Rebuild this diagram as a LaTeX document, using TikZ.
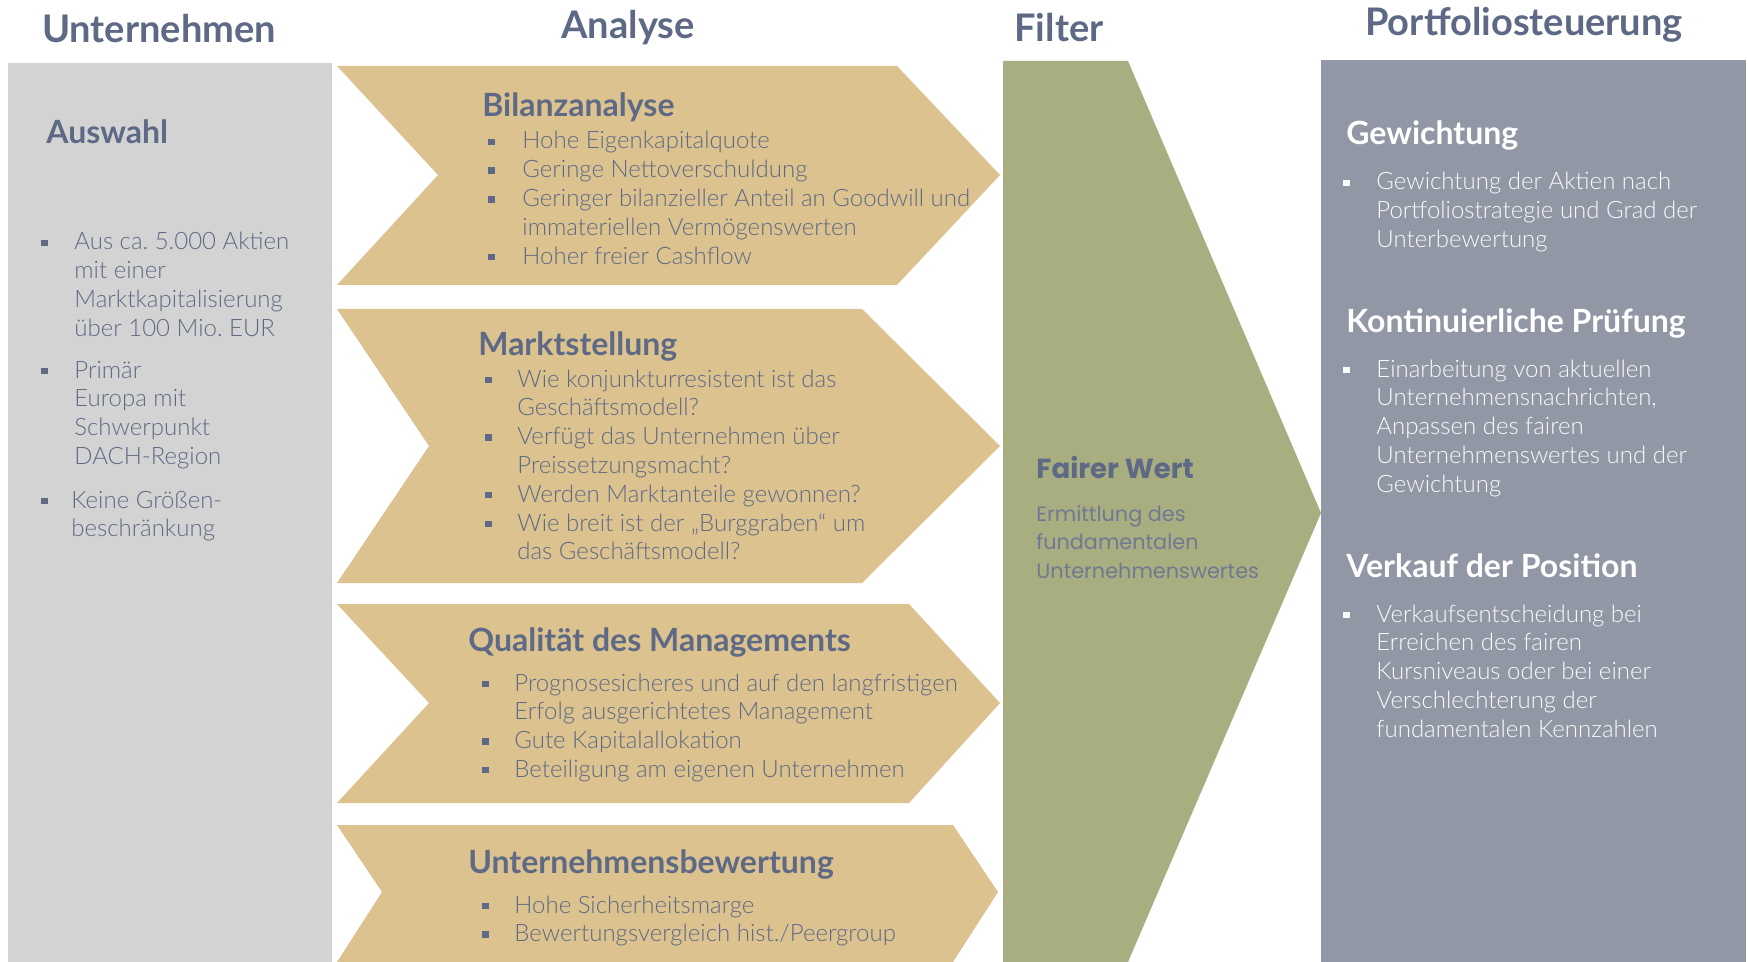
\documentclass[tikz,border=0pt]{standalone}
\usepackage{fontspec}
\setmainfont{Lato}[UprightFont=* Light, BoldFont=* Bold]
\newfontfamily\geo{Poppins}
\frenchspacing
\definecolor{goldc}{RGB}{219,194,143}
\definecolor{greenc}{RGB}{168,174,128}
\definecolor{portc}{RGB}{145,151,164}
\definecolor{grayc}{RGB}{211,211,211}
\definecolor{slate}{RGB}{94,106,133}
\definecolor{fwtext}{RGB}{112,121,146}
\newcommand\lns[1]{\begin{tabular}[t]{@{}l@{}}#1\end{tabular}}
\newcommand\bsq[1]{\makebox[#1][l]{\raisebox{0.17em}{\rule{3.2pt}{3.2pt}}}}
\newcommand\ind[1]{\hspace*{#1}}
\begin{document}
\frenchspacing
\begin{tikzpicture}[x=0.5pt,y=-0.5pt,
  ttl/.style={inner sep=0,text=slate,font=\fontsize{19}{22}\selectfont\bfseries},
  hd/.style={inner sep=0,anchor=base west,text=slate,font=\fontsize{16}{19}\selectfont\bfseries},
  hdw/.style={hd,text=white},
  body/.style={inner sep=0,anchor=base west,text=slate,font=\fontsize{12}{14.4}\selectfont\frenchspacing},
  bodyw/.style={body,text=white!95!portc}]
\useasboundingbox (0,0) rectangle (1748,962);
\fill[white] (0,0) rectangle (1748,962);
% shapes
\fill[grayc] (8,63) rectangle (332,962);
\fill[goldc] (337,66) -- (897,66) -- (1000,175) -- (897,285) -- (337,285) -- (438,175) -- cycle;
\fill[goldc] (337,309) -- (862,309) -- (1000,446) -- (862,583) -- (337,583) -- (429,446) -- cycle;
\fill[goldc] (337,604) -- (909,604) -- (1000,703) -- (909,803) -- (337,803) -- (429,703) -- cycle;
\fill[goldc] (337,825) -- (953,825) -- (998,892) -- (953,962) -- (337,962) -- (382,892) -- cycle;
\fill[greenc] (1003,61) -- (1128,61) -- (1321,513) -- (1128,962) -- (1003,962) -- cycle;
\fill[portc] (1321,60) rectangle (1746,962);
% titles
\node[ttl,anchor=base] (t1) at (159,43) {Unternehmen};
\node[ttl,anchor=base] (t2) at (628,39) {Analyse};
\node[ttl,anchor=base west] (t3) at (1014,42) {Filter};
\node[ttl,anchor=base] (t4) at (1524,36) {Portfoliosteuerung};
% left panel
\node[hd] (aw) at (46,144) {Auswahl};
\node[body] (aw1) at (41,250) {\lns{\bsq{16.5pt}Aus ca. 5.000 Aktien\\\ind{16.5pt}mit einer\\\ind{16.5pt}Marktkapitalisierung\\\ind{16.5pt}über 100 Mio. EUR}};
\node[body] (aw2) at (41,378) {\lns{\bsq{16.5pt}Primär\\\ind{16.5pt}Europa mit\\\ind{16.5pt}Schwerpunkt\\\ind{16.5pt}DACH-Region}};
\node[body] (aw3) at (41,508) {\lns{\bsq{15pt}Keine Größen-\\\ind{15pt}beschränkung}};
% chevron 1
\node[hd] (c1h) at (482,117) {Bilanzanalyse};
\node[body] (c1b) at (488,149) {\lns{\bsq{17pt}Hohe Eigenkapitalquote\\\bsq{17pt}Geringe Nettoverschuldung\\\bsq{17pt}Geringer bilanzieller Anteil an Goodwill und\\\ind{17pt}immateriellen Vermögenswerten\\\bsq{17pt}Hoher freier Cashflow}};
% chevron 2
\node[hd] (c2h) at (478,356) {Marktstellung};
\node[body] (c2b) at (485,387) {\lns{\bsq{16pt}Wie konjunkturresistent ist das\\\ind{16pt}Geschäftsmodell?\\\bsq{16pt}Verfügt das Unternehmen über\\\ind{16pt}Preissetzungsmacht?\\\bsq{16pt}Werden Marktanteile gewonnen?\\\bsq{16pt}Wie breit ist der „Burggraben“ um\\\ind{16pt}das Geschäftsmodell?}};
% chevron 3
\node[hd] (c3h) at (468,651) {Qualität des Managements};
\node[body] (c3b) at (482,691) {\lns{\bsq{16pt}Prognosesicheres und auf den langfristigen\\\ind{16pt}Erfolg ausgerichtetes Management\\\bsq{16pt}Gute Kapitalallokation\\\bsq{16pt}Beteiligung am eigenen Unternehmen}};
% chevron 4
\node[hd] (c4h) at (468,873) {Unternehmensbewertung};
\node[body] (c4b) at (482,913) {\lns{\bsq{16pt}Hohe Sicherheitsmarge\\\bsq{16pt}Bewertungsvergleich hist./Peergroup}};
% filter
\node[hd,font=\geo\fontsize{13.8}{16}\selectfont\bfseries] (fw) at (1036,478) {Fairer Wert};
\node[body,text=fwtext,font=\geo\fontsize{10.4}{14.3}\selectfont] (fwb) at (1036,521) {\lns{Ermittlung des\\fundamentalen\\Unternehmenswertes}};
% portfolio
\node[hdw] (p1h) at (1346,145) {Gewichtung};
\node[bodyw] (p1b) at (1343,190) {\lns{\bsq{16.5pt}Gewichtung der Aktien nach\\\ind{16.5pt}Portfoliostrategie und Grad der\\\ind{16.5pt}Unterbewertung}};
\node[hdw] (p2h) at (1346,332) {Kontinuierliche Prüfung};
\node[bodyw] (p2b) at (1343,377) {\lns{\bsq{16.5pt}Einarbeitung von aktuellen\\\ind{16.5pt}Unternehmensnachrichten,\\\ind{16.5pt}Anpassen des fairen\\\ind{16.5pt}Unternehmenswertes und der\\\ind{16.5pt}Gewichtung}};
\node[hdw] (p3h) at (1346,577) {Verkauf der Position};
\node[bodyw] (p3b) at (1343,622) {\lns{\bsq{16.5pt}Verkaufsentscheidung bei\\\ind{16.5pt}Erreichen des fairen\\\ind{16.5pt}Kursniveaus oder bei einer\\\ind{16.5pt}Verschlechterung der\\\ind{16.5pt}fundamentalen Kennzahlen}};
\end{tikzpicture}
\end{document}
